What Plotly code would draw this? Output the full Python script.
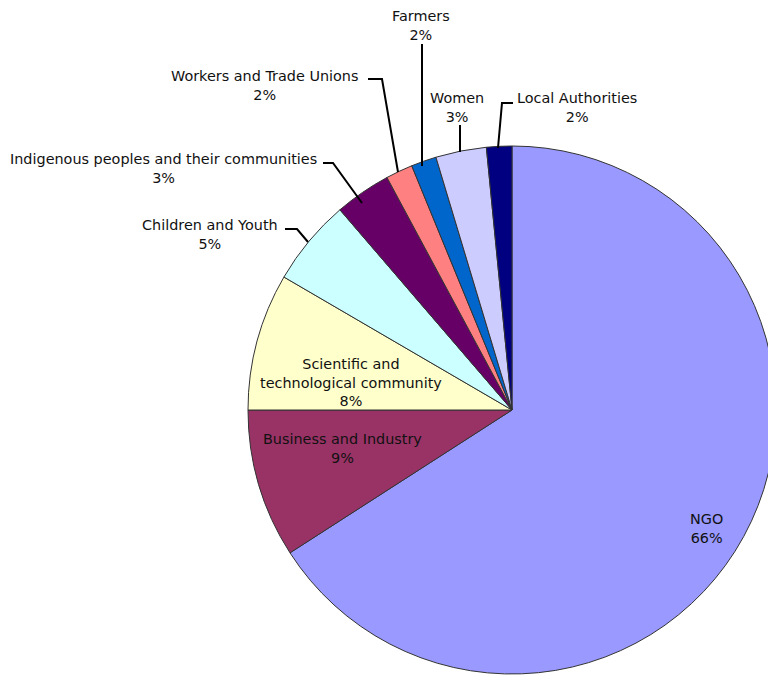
import plotly.graph_objects as go

# ---- data ----
categories = ["NGO", "Business and Industry", "Scientific and<br>technological community",
              "Children and Youth", "Indigenous peoples and their communities",
              "Workers and Trade Unions", "Farmers", "Women", "Local Authorities"]
values = [65.9, 9.1, 8.4, 5.3, 3.45, 1.65, 1.55, 3.1, 1.55]
colors = ["#9999FF", "#993366", "#FFFFCC", "#CCFFFF", "#660066",
          "#FF8080", "#0066CC", "#CCCCFF", "#000080"]

W, H = 780, 676
def px(x, y):
    return x / W, 1 - y / H

cx, cy, r = 512, 410, 264
x0, y1 = px(cx - r, cy - r)
x1, y0 = px(cx + r, cy + r)

fig = go.Figure(go.Pie(
    labels=categories, values=values, sort=False, direction="clockwise",
    rotation=0, marker=dict(colors=colors, line=dict(color="#333333", width=1)),
    textinfo="none", hoverinfo="label+percent", showlegend=False,
    domain=dict(x=[x0, x1], y=[y0, y1]),
))

total = sum(values)
pct = [f"{round(v / total * 100)}%" for v in values]

# label anchor positions (pixel centers)
label_pos = [(706, 528), (342, 448), (350.5, 383), (210, 234), (163.5, 168.5),
             (264.5, 85), (421, 25.5), (456.5, 107.5), (577, 107.5)]

font = dict(family="DejaVu Sans", size=14.4, color="#111111")
for name, p, (lx, ly) in zip(categories, pct, label_pos):
    ax, ay = px(lx, ly)
    fig.add_annotation(x=ax, y=ay, xref="paper", yref="paper", text=f"{name}<br>{p}",
                       showarrow=False, xanchor="center", yanchor="middle", font=font)

leaders = [
    [(513, 103), (502, 103), (498, 148)],
    [(460, 125), (460, 152)],
    [(422, 44), (422, 166)],
    [(368, 79), (382, 79), (398, 172)],
    [(323, 163), (333, 163), (362, 203)],
    [(285, 229), (297, 229), (308, 242)],
]
for pts in leaders:
    path = ""
    for i, (lx, ly) in enumerate(pts):
        a, b = px(lx, ly)
        path += ("M" if i == 0 else " L") + f"{a:.5f},{b:.5f}"
    fig.add_shape(type="path", path=path, xref="paper", yref="paper",
                  line=dict(color="#000000", width=2))

fig.update_layout(width=W, height=H, margin=dict(l=0, r=0, t=0, b=0),
                  paper_bgcolor="white", plot_bgcolor="white")

fig.write_html("out.html", config={"displayModeBar": False},
               post_script="document.body.style.margin='0';document.body.style.overflow='hidden';")
